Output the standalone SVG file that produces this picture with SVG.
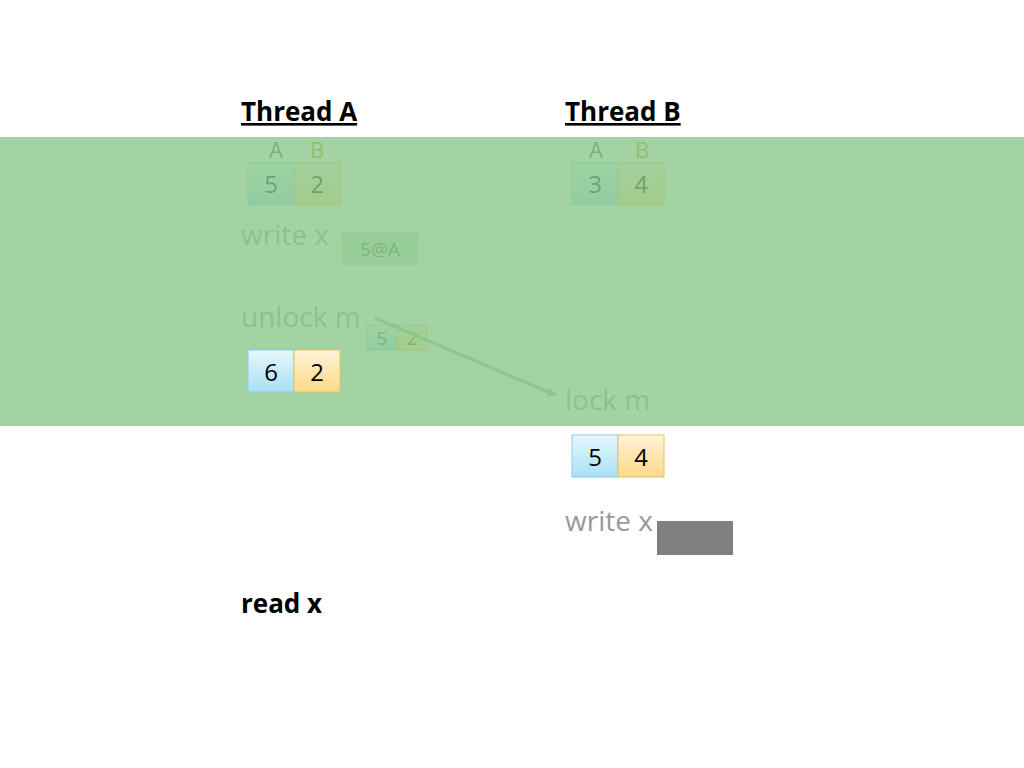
<svg xmlns="http://www.w3.org/2000/svg" width="1024" height="768" viewBox="0 0 1024 768">
<style>
.t{font-family:"Open Sans","Liberation Sans",sans-serif}
.hd{font-size:26px;font-weight:bold;fill:#000;text-decoration:underline}
.op{font-size:28px;fill:#999}
.v{font-size:24px;text-anchor:middle;fill:#000}
.ca{fill:#bfe9f7;stroke:#8ccbe3}
.cb{fill:#ffe5a8;stroke:#e5c36b}
</style>
<defs>
<linearGradient id="ga" x1="0" y1="0" x2="0" y2="1"><stop offset="0" stop-color="#e6f8fe"/><stop offset="1" stop-color="#a8e0f4"/></linearGradient>
<linearGradient id="gb" x1="0" y1="0" x2="0" y2="1"><stop offset="0" stop-color="#fff3d6"/><stop offset="1" stop-color="#fdd98a"/></linearGradient>
<marker id="ar" markerWidth="10" markerHeight="10" refX="8" refY="5" orient="auto" markerUnits="userSpaceOnUse"><path d="M0,0 L10,5 L0,10 z" fill="#8fbf8f"/></marker>
</defs>
<rect width="1024" height="768" fill="#fff"/>
<g class="t">
<text id="threadA" class="hd" x="241" y="121">Thread A</text>
<text id="threadB" class="hd" x="565" y="121">Thread B</text>
</g>
<g id="regA" class="t">
<text x="276" y="158" font-size="22" text-anchor="middle" fill="#1f4e79">A</text>
<text x="317" y="158" font-size="22" text-anchor="middle" fill="#bf8f00">B</text>
<rect x="248" y="163" width="46" height="42" fill="url(#ga)" stroke="#8ccbe3"/>
<rect x="294" y="163" width="46" height="42" fill="url(#gb)" stroke="#e5c36b"/>
<text class="v" x="271" y="193" fill="#555">5</text><text class="v" x="317" y="193" fill="#555">2</text>
</g>
<g id="regB" class="t">
<text x="596" y="158" font-size="22" text-anchor="middle" fill="#1f4e79">A</text>
<text x="642" y="158" font-size="22" text-anchor="middle" fill="#bf8f00">B</text>
<rect x="572" y="163" width="46" height="42" fill="url(#ga)" stroke="#8ccbe3"/>
<rect x="618" y="163" width="46" height="42" fill="url(#gb)" stroke="#e5c36b"/>
<text class="v" x="595" y="193" fill="#555">3</text><text class="v" x="641" y="193" fill="#555">4</text>
</g>
<g id="writeA" class="t">
<text class="op" x="241" y="245">write  x</text>
<rect x="342" y="232" width="76" height="33" fill="#c9ebc9" stroke="#b8ddb8"/>
<text x="380" y="256" font-size="19" text-anchor="middle" fill="#555">5@A</text>
</g>
<g id="unlockA" class="t">
<text class="op" x="241" y="327">unlock m</text>
<rect x="367" y="325" width="30" height="25" fill="url(#ga)" stroke="#8ccbe3"/>
<rect x="397" y="325" width="30" height="25" fill="url(#gb)" stroke="#e5c36b"/>
<text x="382" y="345" font-size="19" text-anchor="middle" fill="#555">5</text>
<text x="412" y="345" font-size="19" text-anchor="middle" fill="#555">2</text>
</g>
<g id="lockB" class="t"><text class="op" x="565" y="410">lock m</text></g>
<g id="connectors"><line x1="375" y1="318" x2="555" y2="395" stroke="#8fbf8f" stroke-width="3" marker-end="url(#ar)"/></g>
<rect x="0" y="137" width="1024" height="289" fill="#8cc88c" opacity="0.8"/>
<g id="regA2" class="t">
<rect x="248" y="350" width="46" height="42" fill="url(#ga)" stroke="#8ccbe3"/>
<rect x="294" y="350" width="46" height="42" fill="url(#gb)" stroke="#e5c36b"/>
<text class="v" x="271" y="381">6</text><text class="v" x="317" y="381">2</text>
</g>
<g id="regB2" class="t">
<rect x="572" y="435" width="46" height="42" fill="url(#ga)" stroke="#8ccbe3"/>
<rect x="618" y="435" width="46" height="42" fill="url(#gb)" stroke="#e5c36b"/>
<text class="v" x="595" y="466">5</text><text class="v" x="641" y="466">4</text>
</g>
<g id="writeB" class="t">
<text class="op" x="565" y="531" fill="#aaa">write x</text>
<rect x="657" y="521" width="76" height="34" fill="#808080"/>
</g>
<g id="readA" class="t"><text x="241" y="613" font-size="26" font-weight="bold">read x</text></g>
</svg>
